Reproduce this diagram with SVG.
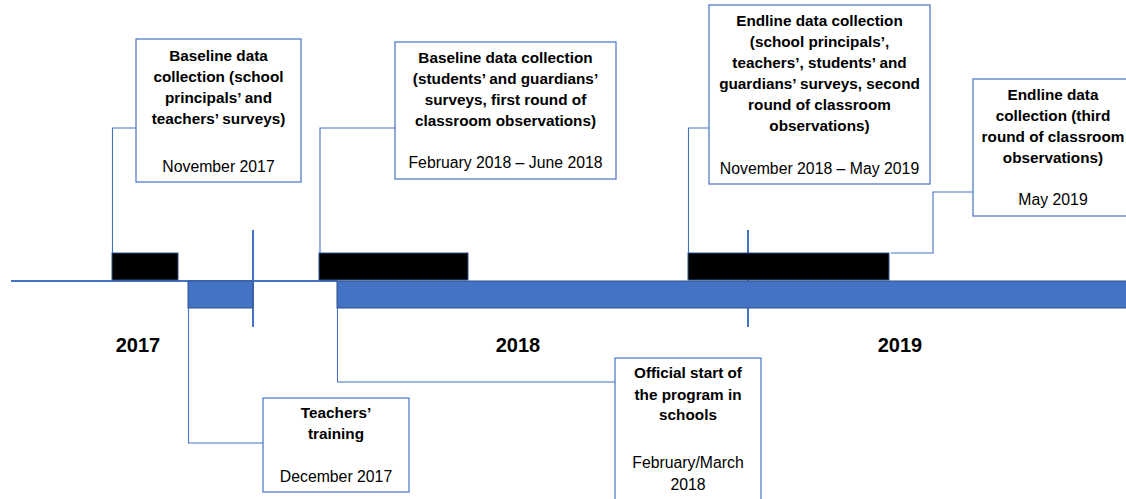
<svg xmlns="http://www.w3.org/2000/svg" width="1126" height="499" viewBox="0 0 1126 499">
<style>
.box{fill:#fff;stroke:#4472C4;stroke-width:1.2}
.conn{fill:none;stroke:#4472C4;stroke-width:1.1}
.tick{stroke:#4472C4;stroke-width:2}
.blue{fill:#4472C4;stroke:#2F528F;stroke-width:1}
.black{fill:#000;stroke:#2F528F;stroke-width:1}
text{font-family:"Liberation Sans",Arial,sans-serif;fill:#000;text-anchor:middle}
.b{font-weight:bold;font-size:15.3px}
.r{font-size:15.8px}
.yr{font-weight:bold;font-size:20px}
</style>
<rect width="1126" height="499" fill="#fff"/>
<g id="axis">
<line x1="11" y1="281" x2="337" y2="281" class="tick"/>
<line x1="253" y1="230" x2="253" y2="327" class="tick"/>
<line x1="748" y1="230" x2="748" y2="327" class="tick"/>
<rect x="188" y="281" width="65" height="27" class="blue"/>
<rect x="337" y="281" width="792" height="27" class="blue"/>
<rect x="112" y="253" width="66" height="27" class="black"/>
<rect x="319" y="253" width="149" height="27" class="black"/>
<rect x="688" y="253" width="201" height="27" class="black"/>
</g>
<g id="connectors">
<polyline points="136,128 112.5,128 112.5,253" class="conn"/>
<polyline points="395,128 320,128 320,253" class="conn"/>
<polyline points="709,128 688.5,128 688.5,253" class="conn"/>
<polyline points="973,192 933,192 933,253 891,253" class="conn"/>
<polyline points="188.5,308 188.5,443 263,443" class="conn"/>
<polyline points="337.5,308 337.5,382 615,382" class="conn"/>
</g>
<g id="years">
<text x="138" y="352" class="yr">2017</text>
<text x="518" y="352" class="yr">2018</text>
<text x="900" y="352" class="yr">2019</text>
</g>
<g id="node-baseline-nov2017">
<rect x="136" y="39" width="165" height="143" class="box"/>
<text x="218.5" y="61" class="b">Baseline data</text>
<text x="218.5" y="82" class="b">collection (school</text>
<text x="218.5" y="103" class="b">principals’ and</text>
<text x="218.5" y="124" class="b">teachers’ surveys)</text>
<text x="218.5" y="172" class="r">November 2017</text>
</g>
<g id="node-baseline-2018">
<rect x="395" y="42" width="221" height="137" class="box"/>
<text x="505.5" y="63" class="b">Baseline data collection</text>
<text x="505.5" y="84" class="b">(students’ and guardians’</text>
<text x="505.5" y="105" class="b">surveys, first round of</text>
<text x="505.5" y="126" class="b">classroom observations)</text>
<text x="505.5" y="168" class="r">February 2018 – June 2018</text>
</g>
<g id="node-endline-1">
<rect x="709" y="5" width="221" height="179" class="box"/>
<text x="819.5" y="26" class="b">Endline data collection</text>
<text x="819.5" y="47" class="b">(school principals’,</text>
<text x="819.5" y="68" class="b">teachers’, students’ and</text>
<text x="819.5" y="89" class="b">guardians’ surveys, second</text>
<text x="819.5" y="110" class="b">round of classroom</text>
<text x="819.5" y="131" class="b">observations)</text>
<text x="819.5" y="174" class="r">November 2018 – May 2019</text>
</g>
<g id="node-endline-2">
<rect x="973" y="79" width="160" height="137" class="box"/>
<text x="1053" y="100" class="b">Endline data</text>
<text x="1053" y="121" class="b">collection (third</text>
<text x="1053" y="142" class="b">round of classroom</text>
<text x="1053" y="163" class="b">observations)</text>
<text x="1053" y="205" class="r">May 2019</text>
</g>
<g id="node-training">
<rect x="263" y="398" width="146" height="94" class="box"/>
<text x="336" y="418" class="b">Teachers’</text>
<text x="336" y="439" class="b">training</text>
<text x="336" y="482" class="r">December 2017</text>
</g>
<g id="node-official-start">
<rect x="615" y="358" width="146" height="150" class="box"/>
<text x="688" y="378" class="b">Official start of</text>
<text x="688" y="400" class="b">the program in</text>
<text x="688" y="420" class="b">schools</text>
<text x="688" y="468" class="r">February/March</text>
<text x="688" y="490" class="r">2018</text>
</g>
</svg>
